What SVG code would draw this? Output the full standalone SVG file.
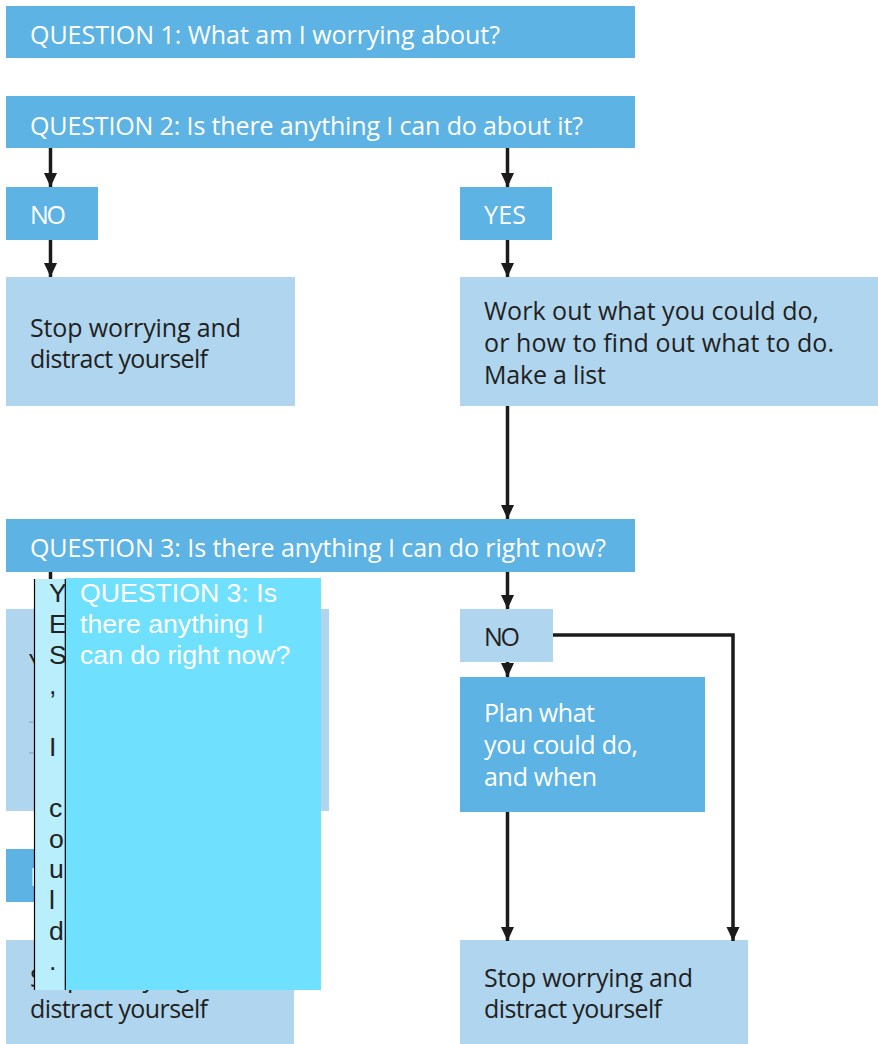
<svg xmlns="http://www.w3.org/2000/svg" width="878" height="1044" viewBox="0 0 878 1044">
<style>
.dk{fill:#5db3e4}
.lt{fill:#afd5ef}
.tw{font-family:"Open Sans","Noto Sans",sans-serif;font-size:25px;fill:#ffffff}
.tb{font-family:"Open Sans","Noto Sans",sans-serif;font-size:25px;fill:#231f20}
.conn{fill:none;stroke:#1b1b1b;stroke-width:3.5}
.ov{font-family:"Liberation Sans",Arial,sans-serif;font-size:26.67px}
</style>
<defs>
<marker id="ah" viewBox="0 0 14 14" markerWidth="14" markerHeight="14" markerUnits="userSpaceOnUse" refX="14" refY="7" orient="auto">
<path d="M0,0.5 L14,7 L0,13.5 z" fill="#1b1b1b"/>
</marker>
</defs>
<rect width="878" height="1044" fill="#ffffff"/>

<g id="q1">
<rect class="dk" x="6" y="6" width="629" height="52"/>
<text class="tw" x="30" y="44" textLength="470">QUESTION 1: What am I worrying about?</text>
</g>
<g id="q2">
<rect class="dk" x="6" y="96" width="629" height="52"/>
<text class="tw" x="30" y="135" textLength="553">QUESTION 2: Is there anything I can do about it?</text>
</g>
<g id="no1">
<rect class="dk" x="6" y="187" width="92" height="53"/>
<text class="tw" x="30" y="224" textLength="36">NO</text>
</g>
<g id="yes1">
<rect class="dk" x="460" y="187" width="92" height="53"/>
<text class="tw" x="484" y="224" textLength="42">YES</text>
</g>
<g id="stop1">
<rect class="lt" x="6" y="277" width="289" height="129"/>
<text class="tb" x="30" y="337" textLength="211">Stop worrying and</text>
<text class="tb" x="30" y="368" textLength="178">distract yourself</text>
</g>
<g id="work">
<rect class="lt" x="460" y="277" width="418" height="129"/>
<text class="tb" x="484" y="320" textLength="335">Work out what you could do,</text>
<text class="tb" x="484" y="352" textLength="350">or how to find out what to do.</text>
<text class="tb" x="484" y="384" textLength="122">Make a list</text>
</g>
<g id="q3">
<rect class="dk" x="6" y="519" width="629" height="53"/>
<text class="tw" x="30" y="557" textLength="576">QUESTION 3: Is there anything I can do right now?</text>
</g>
<g id="yes2">
<rect class="lt" x="6" y="609" width="323" height="202"/>
<text class="tb" x="29" y="672">Y</text>
<line x1="29" y1="722" x2="40" y2="722" stroke="#7f9fba" stroke-width="1"/>
<line x1="29" y1="753" x2="40" y2="753" stroke="#7f9fba" stroke-width="1"/>
</g>
<g id="no3">
<rect class="dk" x="6" y="849" width="92" height="53"/>
<text class="tw" x="30" y="886">N</text>
</g>
<g id="stop2">
<rect class="lt" x="6" y="940" width="288" height="104"/>
<text class="tb" x="30" y="987" textLength="210">Stop worrying and</text>
<text class="tb" x="30" y="1018" textLength="178">distract yourself</text>
</g>
<g id="no2">
<rect class="lt" x="460" y="609" width="93" height="53"/>
<text class="tb" x="484" y="646" textLength="36">NO</text>
</g>
<g id="plan">
<rect class="dk" x="460" y="677" width="245" height="135"/>
<text class="tw" x="484" y="722" textLength="111">Plan what</text>
<text class="tw" x="484" y="754" textLength="154">you could do,</text>
<text class="tw" x="484" y="786" textLength="113">and when</text>
</g>
<g id="stop3">
<rect class="lt" x="460" y="940" width="288" height="104"/>
<text class="tb" x="484" y="987" textLength="209">Stop worrying and</text>
<text class="tb" x="484" y="1018" textLength="178">distract yourself</text>
</g>

<g id="connectors">
<line class="conn" x1="50.5" y1="148" x2="50.5" y2="187" marker-end="url(#ah)"/>
<line class="conn" x1="507.5" y1="148" x2="507.5" y2="187" marker-end="url(#ah)"/>
<line class="conn" x1="50.5" y1="240" x2="50.5" y2="277" marker-end="url(#ah)"/>
<line class="conn" x1="507.5" y1="240" x2="507.5" y2="277" marker-end="url(#ah)"/>
<line class="conn" x1="507.5" y1="406" x2="507.5" y2="519" marker-end="url(#ah)"/>
<line class="conn" x1="50.5" y1="572" x2="50.5" y2="609" marker-end="url(#ah)"/>
<line class="conn" x1="50.5" y1="811" x2="50.5" y2="849" marker-end="url(#ah)"/>
<line class="conn" x1="50.5" y1="902" x2="50.5" y2="940" marker-end="url(#ah)"/>
<line class="conn" x1="507.5" y1="572" x2="507.5" y2="609" marker-end="url(#ah)"/>
<line class="conn" x1="507.5" y1="662" x2="507.5" y2="677" marker-end="url(#ah)"/>
<line class="conn" x1="507.5" y1="812" x2="507.5" y2="941" marker-end="url(#ah)"/>
<polyline class="conn" points="553,635 733,635 733,941" marker-end="url(#ah)"/>
</g>

<g id="overlay-narrow">
<rect x="34.5" y="579" width="31" height="411" fill="#b9effd"/>
<line x1="34.5" y1="579" x2="34.5" y2="990" stroke="#000" stroke-width="1.2"/>
<line x1="65.3" y1="579" x2="65.3" y2="990" stroke="#000" stroke-width="1.2"/>
<text class="ov" fill="#222222"><tspan x="49" y="602.3">Y</tspan><tspan x="49" y="633">E</tspan><tspan x="49" y="663.7">S</tspan><tspan x="49" y="694.3">,</tspan><tspan x="49" y="755.7">I</tspan><tspan x="49" y="817">c</tspan><tspan x="49" y="847.7">o</tspan><tspan x="49" y="878.3">u</tspan><tspan x="49" y="909">l</tspan><tspan x="49" y="939.7">d</tspan><tspan x="49" y="970.3">.</tspan></text>
</g>
<g id="overlay-box">
<rect x="66" y="578" width="255" height="412" fill="#6fe0fe"/>
<text class="ov" fill="#ffffff"><tspan x="80" y="602.3">QUESTION 3: Is</tspan><tspan x="80" y="633">there anything I</tspan><tspan x="80" y="663.7">can do right now?</tspan></text>
</g>
</svg>
